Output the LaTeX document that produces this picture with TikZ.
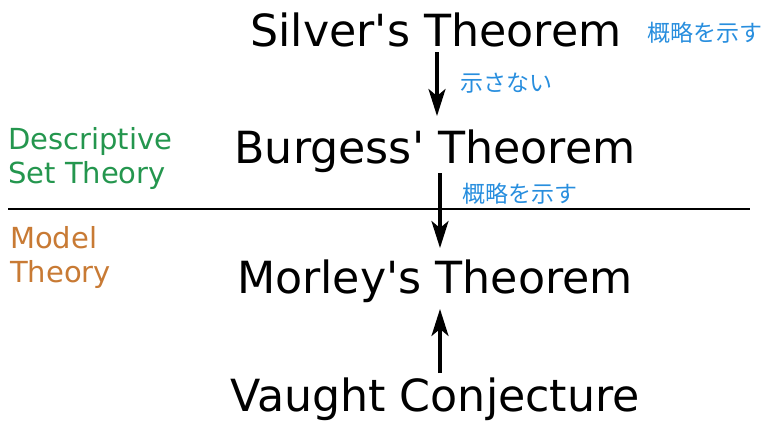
\documentclass[tikz,border=0pt]{standalone}
\usepackage{fontspec}
\newfontfamily\dv{DejaVu Sans}
\newfontfamily\cjk{Noto Sans CJK JP}
\usetikzlibrary{arrows.meta}
\definecolor{dstgreen}{RGB}{36,150,78}
\definecolor{mtorange}{RGB}{200,122,52}
\definecolor{jpblue}{RGB}{40,142,222}
\begin{document}
\begin{tikzpicture}[x=1pt,y=-1pt,
  thm/.style={anchor=base,inner sep=0pt,font=\dv\fontsize{44.3}{50}\selectfont},
  field/.style={anchor=base west,inner sep=0pt,align=left,font=\dv\fontsize{29}{34}\selectfont},
  jp/.style={anchor=base west,inner sep=0pt,text=jpblue,font=\cjk\fontsize{23}{26}\selectfont},
  arr/.style={line width=3.2pt,-{Stealth[length=27pt,width=17pt,inset=7pt]}}]
\useasboundingbox (0,0) rectangle (765,421);
\node[thm] (silver) at (436,46) {Silver's Theorem};
\node[thm] (burgess) at (435,163) {Burgess' Theorem};
\node[thm] (morley) at (435,293) {Morley's Theorem};
\node[thm] (vaught) at (435,411) {Vaught Conjecture};
\node[field,text=dstgreen] (dst) at (8,183) {Descriptive\\Set Theory};
\node[field,text=mtorange] (mt) at (10,282) {Model\\Theory};
\node[jp] (jp0) at (647,41) {概略を示す};
\node[jp] (jp1) at (460,91) {示さない};
\node[jp] (jp2) at (462,202) {概略を示す};
\coordinate (l1) at (8,209);
\coordinate (l2) at (750,209);
\draw[line width=1.8pt] (l1) -- (l2);
\coordinate (a1s) at (437,52);
\coordinate (a1e) at (437,116);
\coordinate (a2s) at (440,173);
\coordinate (a2e) at (440,248);
\coordinate (a3s) at (440,373);
\coordinate (a3e) at (440,309);
\draw[arr] (a1s) -- (a1e);
\draw[arr] (a2s) -- (a2e);
\draw[arr] (a3s) -- (a3e);
\end{tikzpicture}
\end{document}
